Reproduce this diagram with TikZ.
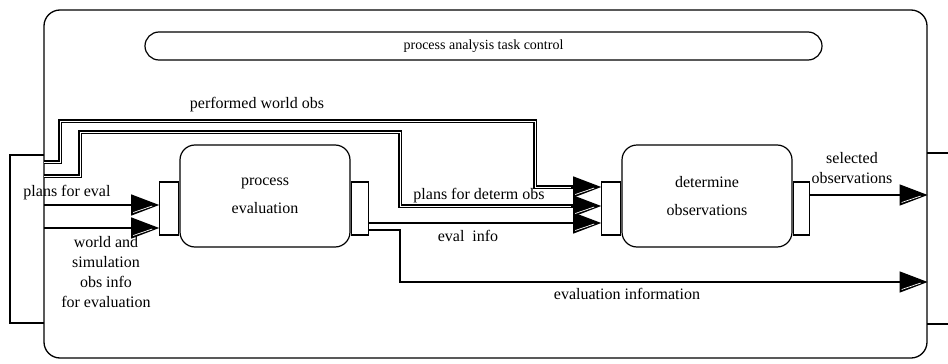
\documentclass[tikz,border=0pt]{standalone}
\usepackage{fontspec}
\setmainfont{Liberation Serif}
\usetikzlibrary{positioning,arrows.meta}

\tikzset{
  box/.style={draw, line width=1.3pt, rounded corners=16pt, minimum width=883pt, minimum height=348pt},
  ctrl/.style={draw, line width=1.2pt, rounded corners=14pt, minimum width=677pt, minimum height=28pt,
    font=\fontsize{14}{16}\selectfont},
  proc/.style={draw, line width=1.2pt, rounded corners=15pt, minimum width=170pt, minimum height=102pt,
    align=center, font=\fontsize{16}{28}\selectfont},
  port/.style={draw, line width=1.2pt, minimum width=19pt, minimum height=53pt, inner sep=0pt},
  lbl/.style={align=center, inner sep=0pt, font=\fontsize{16}{20}\selectfont},
  flow/.style={line width=1.2pt},
  dflow/.style={double, double distance=0.7pt, line width=1.5pt},
  head/.style={line width=1.2pt, -{Triangle[length=28pt,width=21pt]}},
  stripe/.style={white, line width=0.7pt},
}

\begin{document}
\begin{tikzpicture}[x=1pt, y=-1pt]
  \useasboundingbox (0,0) rectangle (948,364);

  \node[box] (frame) at (485.5,184) {};
  \node[ctrl] (ctrl) at (483.5,46) {process analysis task control};

  % side brackets
  \draw[line width=1.2pt] (44,155) -- (10,155) -- (10,323) -- (44,323);
  \draw[line width=1.2pt] (948,153) -- (927,153);
  \draw[line width=1.2pt] (948,324) -- (927,324);

  \node[proc] (pe) at (265,196) {process\\evaluation};
  \node[port, left=0pt of pe.west, yshift=-12.5pt] (pel) {};
  \node[port, right=0pt of pe.east, yshift=-12.5pt, minimum width=17pt] (per) {};

  \node[proc] (dob) at (707,196) {determine\\observations};
  \node[port, left=0pt of dob.west, yshift=-12.5pt] (dol) {};
  \node[port, right=0pt of dob.east, yshift=-12.5pt, minimum width=16pt] (dor) {};

  \coordinate (w1) at (44,162);
  \coordinate (w2) at (44,176);
  \coordinate (i1) at (44,205);
  \coordinate (i2) at (44,228);
  \coordinate (b1) at (535,187);
  \coordinate (b2) at (400,206);
  \coordinate (b3) at (400,282);
  \coordinate (e1) at ([yshift=-14.5pt]per.east);
  \coordinate (e2) at ([yshift=-21.5pt]per.east);
  \coordinate (s1) at ([yshift=13.5pt]dor.east);

  \coordinate (t1) at (b1 -| dol.west);
  \coordinate (t2) at (b2 -| dol.west);
  \coordinate (t3) at (e1 -| dol.west);
  \coordinate (t4) at (i1 -| pel.west);
  \coordinate (t5) at (i2 -| pel.west);
  \coordinate (t6) at (s1 -| frame.east);
  \coordinate (t7) at (b3 -| frame.east);

  % double flows
  \draw[dflow, shorten >=20pt] (w1) -| (60,121) -| (b1) -- (t1);
  \draw[dflow, shorten >=20pt] (w2) -| (80,132) -| (b2) -- (t2);
  \draw[head] ([xshift=-30pt]t1) -- (t1);
  \draw[head] ([xshift=-30pt]t2) -- (t2);

  % single flows
  \draw[head] (i1) -- (t4);
  \draw[head] (i2) -- (t5);
  \draw[head] (e1) -- (t3);
  \draw[head] (e2) -| (b3) -- (t7);
  \draw[head] (s1) -- (t6);

  \foreach \t in {t1,t2,t3,t4,t5,t6,t7}
    \draw[stripe] ([shift={(-26pt,-7.5pt)}]\t) -- ([shift={(-7pt,-1pt)}]\t);

  \node[lbl] (lpw) at (257,105) {performed world obs};
  \node[lbl] (lpd) at (479,196) {plans for determ obs};
  \node[lbl] (lei) at (468,236) {eval~~info};
  \node[lbl] (lein) at (627,294) {evaluation information};
  \node[lbl] (lpe) at (67,193) {plans for eval};
  \node[lbl] (lws) at (106,272) {world and\\simulation\\obs info\\for evaluation};
  \node[lbl] (lso) at (852,168) {selected\\observations};
\end{tikzpicture}
\end{document}
